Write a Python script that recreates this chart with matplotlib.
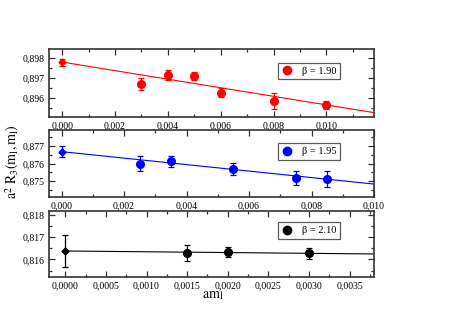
import numpy as np
import matplotlib
matplotlib.use('Agg')
import matplotlib.pyplot as plt
from matplotlib.ticker import FuncFormatter, MultipleLocator
from matplotlib.lines import Line2D

plt.rcParams['font.family'] = ['Liberation Serif', 'DejaVu Serif']
plt.rcParams['mathtext.fontset'] = 'stix'

# data (am_l, value, error)
x_190 = [0.0, 0.003, 0.004, 0.005, 0.006, 0.008, 0.010]
y_190 = [0.89778, 0.89668, 0.89715, 0.89709, 0.89625, 0.89585, 0.89565]
e_190 = [0.00020, 0.00030, 0.00025, 0.00020, 0.00023, 0.00040, 0.00020]
fit_190 = [0.89780, -0.216]  # intercept, slope

x_195 = [0.0, 0.0025, 0.0035, 0.0055, 0.0075, 0.0085]
y_195 = [0.87667, 0.87600, 0.87613, 0.87568, 0.87519, 0.87511]
e_195 = [0.00033, 0.00043, 0.00032, 0.00033, 0.00038, 0.00045]
fit_195 = [0.87667, -0.183]

x_210 = [0.0, 0.0015, 0.0020, 0.0030]
y_210 = [0.81639, 0.81629, 0.81632, 0.81627]
e_210 = [0.00072, 0.00034, 0.00022, 0.00025]
fit_210 = [0.81638, -0.035]

labels = ['β = 1.90', 'β = 1.95', 'β = 2.10']
colors = ['#ff0000', '#0000ff', '#000000']

W, H = 463, 327
fig = plt.figure(figsize=(W / 100, H / 100), dpi=100)


def box(top, bottom):
    return [49 / W, 1 - bottom / H, 325 / W, (bottom - top) / H]


panels = [
    dict(x=x_190, y=y_190, e=e_190, fit=fit_190, pos=box(49, 117),
         xlim=(-0.0005, 0.0118), ylim=(0.89503, 0.89846),
         xmaj=0.002, xmin=0.001, ymaj=0.001, ymin=0.0005, xdec=3, leg_y=0.80),
    dict(x=x_195, y=y_195, e=e_195, fit=fit_195, pos=box(130, 197),
         xlim=(-0.0004, 0.010), ylim=(0.87411, 0.87789),
         xmaj=0.002, xmin=0.001, ymaj=0.001, ymin=0.0005, xdec=3, leg_y=0.80),
    dict(x=x_210, y=y_210, e=e_210, fit=fit_210, pos=box(211, 277),
         xlim=(-0.0002, 0.0038), ylim=(0.81521, 0.81818),
         xmaj=0.0005, xmin=0.00025, ymaj=0.001, ymin=0.0005, xdec=4, leg_y=0.83),
]

for p, lab, col in zip(panels, labels, colors):
    ax = fig.add_axes(p['pos'])
    x = np.array(p['x'])
    y = np.array(p['y'])
    e = np.array(p['e'])
    # fit line from 0 to right edge
    xf = np.array([0.0, p['xlim'][1]])
    ax.plot(xf, p['fit'][0] + p['fit'][1] * xf, color=col, lw=0.8, zorder=1)
    # extrapolated point (smaller diamond)
    ax.errorbar(x[:1], y[:1], yerr=e[:1], fmt='D', ms=3.5, color=col,
                ecolor=col, elinewidth=0.9, capsize=2.5, capthick=0.9, zorder=3)
    ax.errorbar(x[1:], y[1:], yerr=e[1:], fmt='o', ms=5.5, color=col,
                ecolor=col, elinewidth=0.9, capsize=2.5, capthick=0.9, zorder=3)
    ax.set_xlim(p['xlim'])
    ax.set_ylim(p['ylim'])
    ax.xaxis.set_major_locator(MultipleLocator(p['xmaj']))
    ax.xaxis.set_minor_locator(MultipleLocator(p['xmin']))
    ax.yaxis.set_major_locator(MultipleLocator(p['ymaj']))
    ax.yaxis.set_minor_locator(MultipleLocator(p['ymin']))
    d = p['xdec']
    ax.xaxis.set_major_formatter(FuncFormatter(lambda v, pos, d=d: ('%.*f' % (d, v)).replace('.', ',')))
    ax.yaxis.set_major_formatter(FuncFormatter(lambda v, pos: ('%.3f' % v).replace('.', ',')))
    ax.tick_params(which='both', direction='in', top=True, right=True,
                   labelsize=7, color='#333333', width=0.9, pad=3)
    ax.tick_params(which='major', length=4.5)
    ax.tick_params(which='minor', length=2.5)
    for s in ax.spines.values():
        s.set_linewidth(1.2)
        s.set_color('#333333')
    handle = Line2D([], [], ls='none', marker='o', ms=6, color=col)
    leg = ax.legend([handle], [lab], loc='upper left', bbox_to_anchor=(0.705, p['leg_y']),
                    fontsize=7.5, frameon=True, fancybox=False, handlelength=1.0,
                    handletextpad=0.9, borderpad=0.35, borderaxespad=0)
    leg.get_frame().set_edgecolor('#333333')
    leg.get_frame().set_linewidth(0.9)

fig.text(13 / W, 1 - 162 / H, r'$\mathrm{a}^2\ \mathrm{R}_3(\mathrm{m}_\mathrm{l},\mathrm{m}_\mathrm{l})$',
         rotation=90, ha='center', va='center', fontsize=10)
fig.text(213 / W, 1 - 296 / H, r'$\mathrm{am}_\mathrm{l}$', ha='center', va='center', fontsize=10)

fig.savefig('out.png', dpi=100)
